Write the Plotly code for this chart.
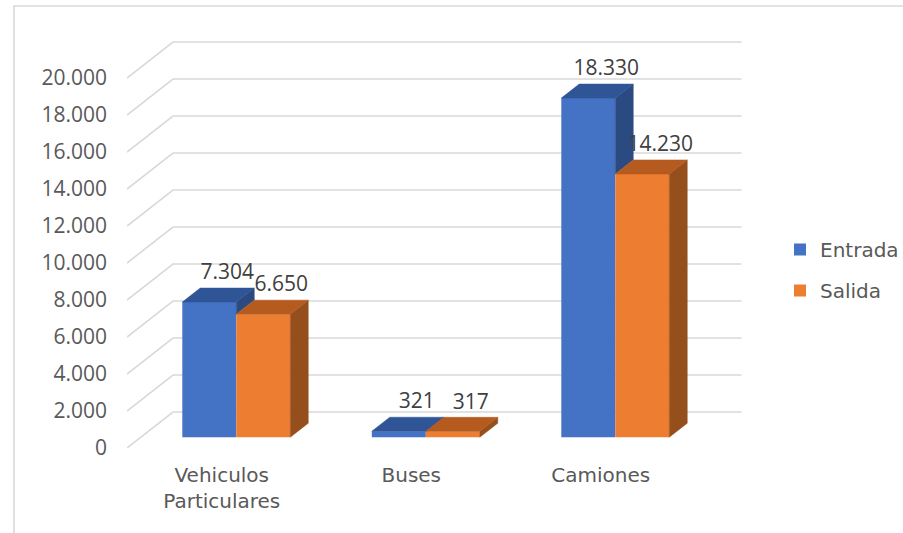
import plotly.graph_objects as go

# ---- data ----
categories = ["Vehiculos<br>Particulares", "Buses", "Camiones"]
series_names = ["Entrada", "Salida"]
entrada = [7304, 321, 18330]
salida = [6650, 317, 14230]
y_ticks = [0, 2000, 4000, 6000, 8000, 10000, 12000, 14000, 16000, 18000, 20000]

# ---- styling / pseudo-3D geometry ----
front_colors = ["#4472C4", "#ED7D31"]
top_colors = ["#2F5597", "#B55B1F"]
side_colors = ["#2B4A82", "#954F1D"]
grid_color = "#D9D9D9"
label_grey = "#595959"
value_grey = "#404040"

W, H = 903, 533
M_L, M_R, M_T, M_B = 127, 143, 20, 85
PX_PER_CAT = 189.5
PX_PER_UNIT = 0.0185
plot_w = W - M_L - M_R
plot_h = H - M_T - M_B
x_range = [-0.5, -0.5 + plot_w / PX_PER_CAT]
y_range = [0, plot_h / PX_PER_UNIT]

DX = 46 / PX_PER_CAT          # full depth offset along x (category units)
DY = 36 / PX_PER_UNIT         # full depth offset along y (value units)
D0, D1 = 0.30, 0.69           # front / back depth of the bars
BAR_W = 54 / PX_PER_CAT       # bar width (category units)

num_font = "Open Sans"
txt_font = "DejaVu Sans"


def fmt(v):
    return f"{v:,}".replace(",", ".")


fig = go.Figure()

# back-wall gridlines with their oblique floor-to-wall segment
n = len(categories)
for v in y_ticks:
    fig.add_trace(go.Scatter(
        x=[-0.5, -0.5 + DX, n - 0.5 + DX], y=[v, v + DY, v + DY],
        mode="lines", line=dict(color=grid_color, width=1.6),
        hoverinfo="skip", showlegend=False, zorder=-1))

series = [entrada, salida]
offsets = [-BAR_W, 0.0]
xs = [i + D0 * DX + 0.004 for i in range(n)]

# front faces
for s, vals in enumerate(series):
    fig.add_trace(go.Bar(
        x=xs, y=vals, base=[D0 * DY] * n, width=[BAR_W] * n,
        offset=[offsets[s]] * n, name=series_names[s],
        marker=dict(color=front_colors[s], line=dict(width=0)),
        legendgroup=series_names[s], zorder=0))

ddx = (D1 - D0) * DX
ddy = (D1 - D0) * DY

# top and right-side faces
for s, vals in enumerate(series):
    for i, v in enumerate(vals):
        xl = xs[i] + offsets[s]
        xr = xl + BAR_W
        top = v + D0 * DY
        # side face hidden by the neighbouring bar up to its height
        lo = series[s + 1][i] if s + 1 < len(series) else 0
        lo = min(lo, v)
        fig.add_trace(go.Scatter(
            x=[xr, xr, xr + ddx, xr + ddx, xr],
            y=[lo + D0 * DY, top, top + ddy, lo + D1 * DY, lo + D0 * DY],
            mode="lines", fill="toself", fillcolor=side_colors[s],
            line=dict(width=0.5, color=side_colors[s]),
            hoverinfo="skip", showlegend=False, zorder=1))
        fig.add_trace(go.Scatter(
            x=[xl, xr, xr + ddx, xl + ddx, xl],
            y=[top, top, top + ddy, top + ddy, top],
            mode="lines", fill="toself", fillcolor=top_colors[s],
            line=dict(width=0.5, color=top_colors[s]),
            hoverinfo="skip", showlegend=False, zorder=1))

# value labels above the back edge of each bar
for s, vals in enumerate(series):
    fig.add_trace(go.Scatter(
        x=[xs[i] + offsets[s] + BAR_W / 2 + ddx for i in range(n)],
        y=[v + D1 * DY for v in vals],
        mode="markers+text", text=[fmt(v) for v in vals],
        textposition="top center",
        marker=dict(size=4, opacity=0),
        textfont=dict(family=num_font, size=21, color=value_grey),
        hoverinfo="skip", showlegend=False, zorder=2))

# outer chart frame
def px_to_paper_x(px):
    return (px - M_L) / plot_w


def px_to_paper_y(py):
    return (H - M_B - py) / plot_h


fig.add_shape(type="rect", xref="paper", yref="paper",
              x0=px_to_paper_x(14), x1=px_to_paper_x(920),
              y0=px_to_paper_y(6), y1=px_to_paper_y(560),
              line=dict(color=grid_color, width=1.6), fillcolor="rgba(0,0,0,0)")

fig.update_layout(
    width=W, height=H,
    margin=dict(l=M_L, r=M_R, t=M_T, b=M_B, autoexpand=False),
    paper_bgcolor="white", plot_bgcolor="white",
    separators=",.",
    showlegend=True,
    legend=dict(x=px_to_paper_x(780), y=px_to_paper_y(230),
                xanchor="left", yanchor="top",
                font=dict(family=txt_font, size=20, color=label_grey),
                tracegroupgap=12, bgcolor="rgba(0,0,0,0)"),
    xaxis=dict(range=x_range, tickvals=list(range(n)), ticktext=categories,
               showgrid=False, zeroline=False, showline=False,
               tickfont=dict(family=txt_font, size=20, color=label_grey),
               ticks="", ticklabelstandoff=13, fixedrange=True),
    yaxis=dict(range=y_range, tickvals=y_ticks, tickformat=",d",
               showgrid=False, zeroline=False, showline=False,
               tickfont=dict(family=num_font, size=21, color=label_grey),
               ticks="", ticklabelstandoff=19, fixedrange=True),
)

fig.write_html("out.html")
